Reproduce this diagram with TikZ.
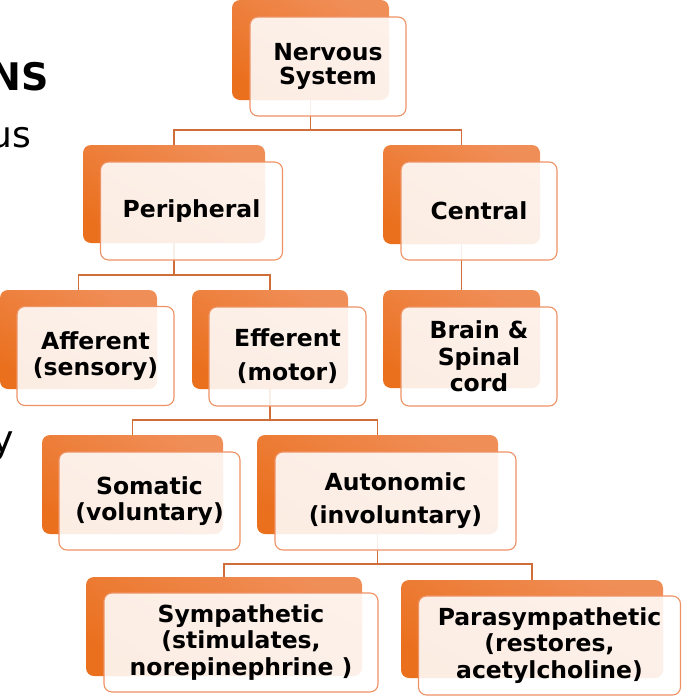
\documentclass[tikz,border=0pt]{standalone}
\usepackage{fontspec}
\setmainfont{DejaVu Sans}
\definecolor{orL}{RGB}{240,142,88}
\definecolor{orD}{RGB}{234,112,30}
\definecolor{lineC}{RGB}{208,110,58}
\definecolor{frameC}{RGB}{238,146,100}
\begin{document}
\begin{tikzpicture}[x=1pt,y=-1pt,
  backbox/.style={rectangle, rounded corners=8pt, inner sep=0pt, outer sep=0pt, top color=orL, bottom color=orD, shading angle=-30, draw=none},
  frontbox/.style={rectangle, rounded corners=8pt, inner sep=0pt, outer sep=0pt, draw=frameC, line width=1.1pt, fill=white, fill opacity=0.88, text opacity=1, align=center, font=\bfseries\fontsize{23.5}{26.5}\selectfont},
  conn/.style={draw=lineC, line width=1.5pt},
  sz/.style 2 args={minimum width=#1pt, minimum height=#2pt},
  sidetext/.style={anchor=base east, inner sep=0pt, outer sep=0pt}
]
\useasboundingbox (0,0) rectangle (682,697);
\clip (0,0) rectangle (682,697);

% partial side texts (cut by the left edge, as in the reference)
\node[sidetext, font=\bfseries\fontsize{38}{40}\selectfont] (t1) at (49,90) {NS};
\node[sidetext, font=\fontsize{36}{40}\selectfont] (t2) at (31,147) {us};
\node[sidetext, font=\fontsize{38}{40}\selectfont] (t3) at (14,452) {y};

% back boxes
\node[backbox, sz={157}{100}] (nsB)   at (310.5,50) {};
\node[backbox, sz={182}{98}]  (perB)  at (174,194) {};
\node[backbox, sz={157}{99}]  (cenB)  at (461.5,194.5) {};
\node[backbox, sz={157}{99}]  (affB)  at (78.5,339.5) {};
\node[backbox, sz={156}{99}]  (effB)  at (270,339.5) {};
\node[backbox, sz={157}{98}]  (brnB)  at (461.5,339) {};
\node[backbox, sz={181}{99}]  (somB)  at (132.5,484.5) {};
\node[backbox, sz={241}{99}]  (autB)  at (377.5,484.5) {};
\node[backbox, sz={276}{99}]  (symB)  at (224,626.5) {};
\node[backbox, sz={262}{98}]  (parB)  at (532,629) {};

% connectors
\coordinate (bus1) at (0,130);
\coordinate (bus2) at (0,275);
\coordinate (bus3) at (0,420);
\coordinate (bus4) at (0,564);
\draw[conn] (nsB.south) -- (nsB.south |- bus1);
\draw[conn] (perB.north) -- (perB.north |- bus1) -- (cenB.north |- bus1) -- (cenB.north);
\draw[conn] (perB.south) -- (perB.south |- bus2);
\draw[conn] (affB.north) -- (affB.north |- bus2) -- (effB.north |- bus2) -- (effB.north);
\draw[conn] (cenB.south) -- (brnB.north);
\draw[conn] (effB.south) -- (effB.south |- bus3);
\draw[conn] (somB.north) -- (somB.north |- bus3) -- (autB.north |- bus3) -- (autB.north);
\draw[conn] (autB.south) -- (autB.south |- bus4);
\draw[conn] (symB.north) -- (symB.north |- bus4) -- (parB.north |- bus4) -- (parB.north);

% front boxes
\node[frontbox, sz={156}{99}, font=\bfseries\fontsize{23.5}{23.5}\selectfont] (ns) at (328,66.5) {\raisebox{-2pt}{Nervous}\\\raisebox{-2pt}{System}};
\node[frontbox, sz={182}{98}] (per) at (191.5,211) {Peripheral};
\node[frontbox, sz={156}{98}] (cen) at (479,211) {Central};
\node[frontbox, sz={157}{99}] (aff) at (95.5,356) {Afferent\\(sensory)};
\node[frontbox, sz={157}{99}] (eff) at (287.5,356.5) {Efferent\\[7.5pt](motor)};
\node[frontbox, sz={156}{99}] (brn) at (479,356.5) {Brain \&\\Spinal\\cord};
\node[frontbox, sz={181}{98}] (som) at (149.5,501) {Somatic\\(voluntary)};
\node[frontbox, sz={241}{98}] (aut) at (395.5,501) {Autonomic\\[6.5pt](involuntary)};
\node[frontbox, sz={274}{99}] (sym) at (241,642.5) {Sympathetic\\(stimulates,\\norepinephrine )};
\node[frontbox, sz={262}{99}] (par) at (549.5,645.5) {Parasympathetic\\(restores,\\acetylcholine)};
\end{tikzpicture}
\end{document}
